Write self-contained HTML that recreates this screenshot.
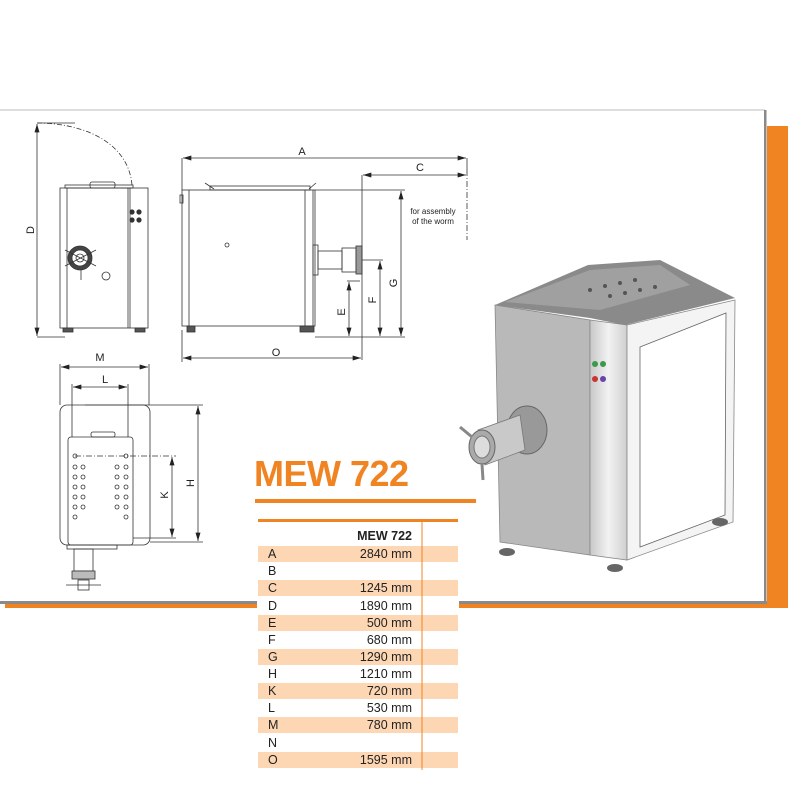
<!DOCTYPE html>
<html><head><meta charset="utf-8"><style>
html,body{margin:0;padding:0;background:#fff;width:800px;height:800px;overflow:hidden;font-family:"Liberation Sans",sans-serif}
</style></head><body>
<svg width="800" height="800" viewBox="0 0 800 800" xmlns="http://www.w3.org/2000/svg" font-family="Liberation Sans, sans-serif">
<defs>
<marker id="ar" viewBox="0 0 10 6" refX="10" refY="3" markerWidth="10" markerHeight="5" orient="auto-start-reverse" markerUnits="userSpaceOnUse"><path d="M0,0L10,3L0,6z" fill="#222"/></marker>
<linearGradient id="col" x1="0" x2="1"><stop offset="0" stop-color="#c8c8c8"/><stop offset="0.5" stop-color="#f2f2f2"/><stop offset="1" stop-color="#d0d0d0"/></linearGradient>
</defs>
<!-- panel shadow / border -->
<rect x="767" y="126" width="21" height="481" fill="#f08322"/>
<rect x="5" y="604" width="783" height="4" fill="#f08322"/>
<line x1="0" y1="110" x2="765" y2="110" stroke="#bdbdbd" stroke-width="1"/>
<rect x="764" y="110" width="2.5" height="494" fill="#8a8a8a"/>
<rect x="0" y="601" width="767" height="3" fill="#8a8a8a"/>

<g stroke="#333" stroke-width="0.8" fill="none">
<!-- front view -->
<rect x="60" y="188" width="88" height="140"/>
<line x1="67" y1="188" x2="67" y2="328"/><line x1="128" y1="188" x2="128" y2="328"/><line x1="130" y1="188" x2="130" y2="328"/>
<rect x="90" y="182" width="25" height="6" rx="2"/>
<rect x="65" y="185" width="68" height="3"/>
<circle cx="80" cy="258" r="12" fill="#444"/><circle cx="80" cy="258" r="8" fill="#fff"/><circle cx="80" cy="258" r="4"/>
<line x1="65" y1="250" x2="96" y2="266"/><line x1="96" y1="250" x2="65" y2="266"/><line x1="81" y1="270" x2="81" y2="280"/>
<circle cx="106" cy="276" r="4"/>
<g fill="#333"><circle cx="132" cy="212" r="2.2"/><circle cx="139" cy="212" r="2.2"/><circle cx="132" cy="220" r="2.2"/><circle cx="139" cy="220" r="2.2"/></g>
<rect x="63" y="328" width="10" height="4" fill="#555"/><rect x="135" y="328" width="10" height="4" fill="#555"/>
<path d="M37,123 C80,123 128,140 132,185" stroke-dasharray="5,2,1,2"/>
<line x1="37" y1="123" x2="75" y2="123"/><line x1="37" y1="337" x2="65" y2="337"/>
<line x1="37" y1="124" x2="37" y2="336" marker-start="url(#ar)" marker-end="url(#ar)"/>
<!-- side view -->
<rect x="182" y="190" width="133" height="136"/>
<line x1="189" y1="190" x2="189" y2="326"/><line x1="305" y1="190" x2="305" y2="326"/><line x1="313" y1="190" x2="313" y2="326"/>
<rect x="180" y="195" width="3" height="8"/>
<rect x="210" y="186" width="100" height="4"/>
<line x1="205" y1="183" x2="214" y2="189"/><line x1="316" y1="183" x2="309" y2="189"/>
<circle cx="227" cy="245" r="2"/>
<rect x="313" y="245" width="5" height="30"/>
<rect x="318" y="251" width="24" height="18"/>
<rect x="342" y="248" width="14" height="24"/>
<rect x="356" y="246" width="6" height="28" fill="#999"/>
<rect x="187" y="326" width="8" height="6" fill="#555"/><rect x="300" y="326" width="14" height="6" fill="#555"/>
<line x1="182" y1="158" x2="182" y2="190"/><line x1="467" y1="158" x2="467" y2="170"/>
<line x1="467" y1="170" x2="467" y2="240" stroke-dasharray="6,2,1,2"/>
<line x1="183" y1="158" x2="466" y2="158" marker-start="url(#ar)" marker-end="url(#ar)"/>
<line x1="362" y1="175" x2="362" y2="360"/>
<line x1="363" y1="175" x2="466" y2="175" marker-start="url(#ar)" marker-end="url(#ar)"/>
<line x1="315" y1="190" x2="405" y2="190"/><line x1="315" y1="337" x2="405" y2="337"/>
<line x1="401" y1="191" x2="401" y2="336" marker-start="url(#ar)" marker-end="url(#ar)"/>
<line x1="362" y1="260" x2="383" y2="260"/>
<line x1="380" y1="261" x2="380" y2="336" marker-start="url(#ar)" marker-end="url(#ar)"/>
<line x1="347" y1="281" x2="360" y2="281"/>
<line x1="349" y1="282" x2="349" y2="336" marker-start="url(#ar)" marker-end="url(#ar)"/>
<line x1="182" y1="330" x2="182" y2="362"/>
<line x1="183" y1="358" x2="361" y2="358" marker-start="url(#ar)" marker-end="url(#ar)"/>
<!-- top view -->
<line x1="60" y1="364" x2="60" y2="405"/><line x1="149" y1="364" x2="149" y2="405"/>
<line x1="61" y1="367" x2="148" y2="367" marker-start="url(#ar)" marker-end="url(#ar)"/>
<line x1="72" y1="384" x2="72" y2="437"/><line x1="128" y1="384" x2="128" y2="437"/>
<line x1="73" y1="387" x2="127" y2="387" marker-start="url(#ar)" marker-end="url(#ar)"/>
<rect x="60" y="405" width="90" height="140" rx="7"/>
<rect x="68" y="437" width="65" height="108" rx="3"/>
<rect x="91" y="432" width="24" height="5" rx="2"/>
<line x1="85" y1="405" x2="203" y2="405"/>
<line x1="75" y1="456" x2="176" y2="456" stroke-dasharray="6,2,1,2"/>
<line x1="133" y1="538" x2="176" y2="538"/><line x1="150" y1="542" x2="203" y2="542"/>
<line x1="172" y1="457" x2="172" y2="537" marker-start="url(#ar)" marker-end="url(#ar)"/>
<line x1="198" y1="406" x2="198" y2="541" marker-start="url(#ar)" marker-end="url(#ar)"/>
<g>
<circle cx="75" cy="456" r="2"/><circle cx="75" cy="467" r="2"/><circle cx="75" cy="477" r="2"/><circle cx="75" cy="487" r="2"/><circle cx="75" cy="497" r="2"/><circle cx="75" cy="507" r="2"/><circle cx="75" cy="517" r="2"/>
<circle cx="83" cy="467" r="2"/><circle cx="83" cy="477" r="2"/><circle cx="83" cy="487" r="2"/><circle cx="83" cy="497" r="2"/><circle cx="83" cy="507" r="2"/>
<circle cx="117" cy="467" r="2"/><circle cx="117" cy="477" r="2"/><circle cx="117" cy="487" r="2"/><circle cx="117" cy="497" r="2"/><circle cx="117" cy="507" r="2"/>
<circle cx="126" cy="456" r="2"/><circle cx="126" cy="467" r="2"/><circle cx="126" cy="477" r="2"/><circle cx="126" cy="487" r="2"/><circle cx="126" cy="497" r="2"/><circle cx="126" cy="507" r="2"/><circle cx="126" cy="517" r="2"/>
</g>
<rect x="67" y="545" width="50" height="4"/>
<rect x="74" y="549" width="19" height="22"/>
<rect x="72" y="571" width="23" height="8" fill="#bbb"/>
<line x1="66" y1="585" x2="101" y2="585"/><rect x="78" y="580" width="11" height="10"/>
</g>
<g font-size="11" fill="#222" text-anchor="middle">
<text x="302" y="155">A</text><text x="420" y="171">C</text>
<text x="100" y="361">M</text><text x="105" y="383">L</text><text x="276" y="356">O</text>
<text transform="translate(34,230) rotate(-90)">D</text>
<text transform="translate(397,283) rotate(-90)">G</text>
<text transform="translate(376,300) rotate(-90)">F</text>
<text transform="translate(345,312) rotate(-90)">E</text>
<text transform="translate(168,495) rotate(-90)">K</text>
<text transform="translate(194,483) rotate(-90)">H</text>
<text x="433" y="214" font-size="8">for assembly</text><text x="433" y="224" font-size="8">of the worm</text>
</g>

<!-- machine 3D -->
<path d="M495,305 L588,265 L660,260 L735,298 L625,325 L590,318 Z" fill="#8a8a8a"/>
<path d="M505,302 L590,270 L660,265 L690,285 L600,310 Z" fill="#a0a0a0"/>
<g fill="#555"><circle cx="590" cy="290" r="2"/><circle cx="605" cy="286" r="2"/><circle cx="620" cy="283" r="2"/><circle cx="635" cy="280" r="2"/><circle cx="610" cy="296" r="2"/><circle cx="625" cy="293" r="2"/><circle cx="640" cy="290" r="2"/><circle cx="655" cy="287" r="2"/></g>
<path d="M495,305 L590,320 L590,555 L500,542 Z" fill="#b9b9b9" stroke="#888" stroke-width="0.8"/>
<path d="M590,320 L627,325 L627,560 L590,555 Z" fill="url(#col)" stroke="#888" stroke-width="0.8"/>
<path d="M627,325 L735,300 L733,522 L627,560 Z" fill="#f4f4f4" stroke="#888" stroke-width="0.8"/>
<path d="M640,347 L726,313 L725,515 L640,547 Z" fill="#fff" stroke="#666" stroke-width="0.8"/>
<circle cx="595" cy="364" r="3" fill="#3a9a4a"/><circle cx="603" cy="364" r="3" fill="#3a9a4a"/>
<circle cx="595" cy="379" r="3" fill="#c33"/><circle cx="603" cy="379" r="3" fill="#64a"/>
<ellipse cx="527" cy="430" rx="20" ry="24" fill="#999" stroke="#666"/>
<path d="M478,430 L520,415 L525,450 L485,465 Z" fill="#c9c9c9" stroke="#777" stroke-width="0.8"/>
<ellipse cx="482" cy="447" rx="13" ry="17" fill="#aaa" stroke="#666"/>
<ellipse cx="482" cy="447" rx="8" ry="11" fill="#ddd" stroke="#777"/>
<line x1="460" y1="427" x2="472" y2="437" stroke="#888" stroke-width="3"/>
<line x1="482" y1="464" x2="483" y2="480" stroke="#888" stroke-width="3"/>
<ellipse cx="507" cy="552" rx="8" ry="4" fill="#666"/><ellipse cx="615" cy="568" rx="8" ry="4" fill="#666"/><ellipse cx="720" cy="522" rx="8" ry="4" fill="#666"/>

<!-- title and table -->
<text x="254" y="486" font-size="36" font-weight="bold" fill="#f08322" letter-spacing="-0.5">MEW 722</text>
<rect x="255" y="499" width="221" height="4" fill="#f08322"/>
<rect x="257" y="506" width="202" height="268" fill="#fff"/>
<rect x="258" y="519" width="200" height="3" fill="#f08322"/>
<g fill="#fdd7b4">
<rect x="258" y="546" width="200" height="16"/><rect x="258" y="580" width="200" height="16"/><rect x="258" y="615" width="200" height="16"/><rect x="258" y="649" width="200" height="16"/><rect x="258" y="683" width="200" height="16"/><rect x="258" y="717" width="200" height="16"/><rect x="258" y="752" width="200" height="16"/>
</g>
<line x1="422" y1="522" x2="422" y2="770" stroke="#f08322" stroke-width="1"/>
<g font-size="12.5" fill="#222">
<text x="412" y="540" text-anchor="end" font-weight="bold">MEW 722</text>
<text x="268" y="558">A</text><text x="268" y="575">B</text><text x="268" y="592">C</text><text x="268" y="610">D</text><text x="268" y="627">E</text><text x="268" y="644">F</text><text x="268" y="661">G</text><text x="268" y="678">H</text><text x="268" y="695">K</text><text x="268" y="712">L</text><text x="268" y="729">M</text><text x="268" y="747">N</text><text x="268" y="764">O</text>
<g text-anchor="end">
<text x="412" y="558">2840 mm</text><text x="412" y="592">1245 mm</text><text x="412" y="610">1890 mm</text><text x="412" y="627">500 mm</text><text x="412" y="644">680 mm</text><text x="412" y="661">1290 mm</text><text x="412" y="678">1210 mm</text><text x="412" y="695">720 mm</text><text x="412" y="712">530 mm</text><text x="412" y="729">780 mm</text><text x="412" y="764">1595 mm</text>
</g>
</g>
</svg>
</body></html>
